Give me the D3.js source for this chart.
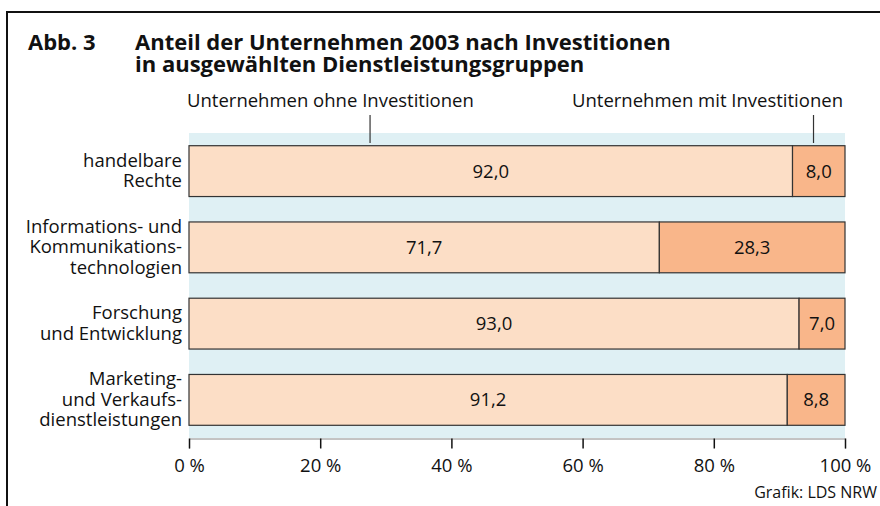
<!DOCTYPE html>
<html>
<head>
<meta charset="utf-8">
<script src="https://cdn.jsdelivr.net/npm/d3@7"></script>
<style>
  body { margin: 0; background: #fff; }
  svg text { font-family: "Open Sans", "Noto Sans", sans-serif; fill: #111; }
</style>
</head>
<body>
<div id="chart"></div>
<script>
// Data
var categories = [
  ["handelbare", "Rechte"],
  ["Informations- und", "Kommunikations-", "technologien"],
  ["Forschung", "und Entwicklung"],
  ["Marketing-", "und Verkaufs-", "dienstleistungen"]
];
var ohneValues = [92.0, 71.7, 93.0, 91.2];
var mitValues = [8.0, 28.3, 7.0, 8.8];
var tickValues = [0, 20, 40, 60, 80, 100];

var svgWidth = 880;
var svgHeight = 506;
var fs = 18.5;

var svg = d3
  .select("#chart")
  .append("svg")
  .attr("width", svgWidth)
  .attr("height", svgHeight);

// frame
svg.append("path")
  .attr("d", "M7,506 V12 H880")
  .attr("fill", "none")
  .attr("stroke", "#111")
  .attr("stroke-width", 2);

// title
svg.append("text").attr("x", 28).attr("y", 50)
  .attr("font-size", 22).attr("font-weight", "bold").text("Abb. 3");
svg.append("text").attr("x", 135).attr("y", 50)
  .attr("font-size", 22).attr("font-weight", "bold")
  .text("Anteil der Unternehmen 2003 nach Investitionen");
svg.append("text").attr("x", 135).attr("y", 72)
  .attr("font-size", 22).attr("font-weight", "bold")
  .text("in ausgewählten Dienstleistungsgruppen");

// scales
var x = d3.scaleLinear().domain([0, 100]).range([189, 845]);
var y = d3.scaleBand()
  .domain(d3.range(categories.length))
  .range([133, 438])
  .paddingInner(1 / 3)
  .paddingOuter(1 / 6);

// plot background
svg.append("rect")
  .attr("x", x(0)).attr("y", 133)
  .attr("width", x(100) - x(0)).attr("height", 438 - 133)
  .attr("fill", "#dff0f4");

// bars
var rows = svg.selectAll(".row")
  .data(categories)
  .enter()
  .append("g")
  .attr("class", "row");

rows.append("rect")
  .attr("x", x(0))
  .attr("y", (d, i) => y(i))
  .attr("width", (d, i) => x(ohneValues[i]) - x(0))
  .attr("height", y.bandwidth())
  .attr("fill", "#fcdec6")
  .attr("stroke", "#333")
  .attr("stroke-width", 1.2);

rows.append("rect")
  .attr("x", (d, i) => x(ohneValues[i]))
  .attr("y", (d, i) => y(i))
  .attr("width", (d, i) => x(100) - x(ohneValues[i]))
  .attr("height", y.bandwidth())
  .attr("fill", "#f9b68a")
  .attr("stroke", "#333")
  .attr("stroke-width", 1.2);

var fmt = (v) => v.toFixed(1).replace(".", ",");

rows.append("text")
  .attr("x", (d, i) => x(ohneValues[i] / 2))
  .attr("y", (d, i) => y(i) + y.bandwidth() / 2 + 6.5)
  .attr("text-anchor", "middle")
  .attr("font-size", fs)
  .text((d, i) => fmt(ohneValues[i]));

rows.append("text")
  .attr("x", (d, i) => x(ohneValues[i] + mitValues[i] / 2))
  .attr("y", (d, i) => y(i) + y.bandwidth() / 2 + 6.5)
  .attr("text-anchor", "middle")
  .attr("font-size", fs)
  .text((d, i) => fmt(mitValues[i]));

// category labels
rows.each(function (d, i) {
  var t = d3.select(this).append("text")
    .attr("text-anchor", "end")
    .attr("font-size", fs);
  var cy = y(i) + y.bandwidth() / 2;
  var lh = 20.5;
  d.forEach(function (line, j) {
    t.append("tspan")
      .attr("x", 182)
      .attr("y", cy + 6 + (j - (d.length - 1) / 2) * lh)
      .text(line);
  });
});

// axis
var axis = svg.append("g")
  .attr("transform", "translate(0,438.5)")
  .call(d3.axisBottom(x).tickValues(tickValues).tickSize(10).tickPadding(10).tickFormat((d) => d + " %"));
axis.select(".domain").attr("stroke", "#888").attr("stroke-width", 1);
axis.selectAll(".tick line").attr("stroke", "#111").attr("stroke-width", 1.5);
axis.selectAll(".tick text")
  .attr("font-size", fs)
  .attr("font-family", "'Open Sans', 'Noto Sans', sans-serif")
  .attr("fill", "#111");

// legend labels with leader lines
var ohneLeader = ohneValues[0] * 0.3;
var mitLeader = ohneValues[0] + mitValues[0] * 0.4;

svg.append("text").attr("x", 187).attr("y", 107)
  .attr("font-size", fs)
  .text("Unternehmen ohne Investitionen");
svg.append("line")
  .attr("x1", x(ohneLeader)).attr("x2", x(ohneLeader))
  .attr("y1", 115).attr("y2", 143)
  .attr("stroke", "#333").attr("stroke-width", 1.2);

svg.append("text").attr("x", 843).attr("y", 107)
  .attr("text-anchor", "end").attr("font-size", fs)
  .text("Unternehmen mit Investitionen");
svg.append("line")
  .attr("x1", x(mitLeader)).attr("x2", x(mitLeader))
  .attr("y1", 115).attr("y2", 143)
  .attr("stroke", "#333").attr("stroke-width", 1.2);

// source
svg.append("text").attr("x", 877).attr("y", 498)
  .attr("text-anchor", "end").attr("font-size", 16)
  .text("Grafik: LDS NRW");
</script>
</body>
</html>
